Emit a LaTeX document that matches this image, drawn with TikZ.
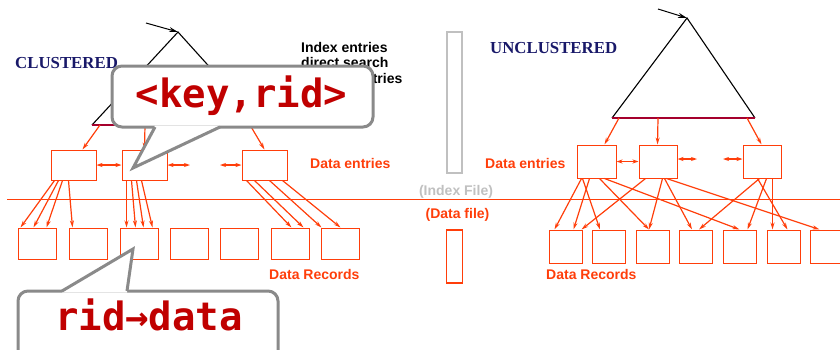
\documentclass[tikz,border=0pt]{standalone}
\usepackage{fontspec}
\setmainfont{Liberation Sans}
\newfontfamily\serifbold{Liberation Serif}
\newfontfamily\monofnt{DejaVu Sans Mono}
\usetikzlibrary{arrows.meta,calc}
\definecolor{ored}{RGB}{255,62,10}
\definecolor{maroon}{RGB}{165,0,45}
\definecolor{navyc}{RGB}{25,25,105}
\definecolor{lgray}{RGB}{192,192,192}
\definecolor{cgray}{RGB}{138,138,138}
\definecolor{callred}{RGB}{192,0,0}
\begin{document}
\begin{tikzpicture}[x=1pt,y=-1pt,
  lbl/.style={inner sep=0, font=\fontsize{14}{16}\selectfont\bfseries},
  redlbl/.style={lbl, text=ored},
  ttl/.style={inner sep=0, text=navyc, font=\serifbold\fontsize{16.8}{18}\selectfont\bfseries},
  ebox/.style={draw=ored, line width=1pt, inner sep=0},
  arr/.style={draw=ored, line width=1.2pt, -{Stealth[length=7pt,width=4pt]}},
  darr/.style={draw=ored, line width=1.2pt, {Stealth[length=6pt,width=4pt]}-{Stealth[length=6pt,width=4pt]}},
  tri/.style={draw=black, line width=1.1pt},
  rootarr/.style={draw=black, line width=1pt, -{Stealth[length=9pt,width=5pt]}},
  cbox/.style={draw=cgray, line width=3pt, fill=white, rounded corners=10pt},
  ctext/.style={inner sep=0, anchor=base, text=callred, font=\monofnt\fontsize{39}{40}\selectfont\bfseries}
]
\useasboundingbox (0,0) rectangle (840,349);

% ---------------- separator and index/data file columns
\coordinate (sepl) at (7,199);
\coordinate (sepr) at (840,199);
\draw[draw=ored, line width=1pt] (sepl) -- (sepr);
\node[draw=lgray, line width=1.5pt, inner sep=0, minimum width=15pt, minimum height=141pt] (ixcol) at (454.5,102.5) {};
\node[draw=ored, line width=1.2pt, inner sep=0, minimum width=16pt, minimum height=53pt] (dfcol) at (454.5,256.5) {};
\node[lbl, text=lgray, anchor=base] (ixlbl) at (456,195) {(Index File)};
\node[redlbl, anchor=base] (dflbl) at (457.5,218) {(Data file)};

% ---------------- texts
\node[ttl, anchor=base west] (clus) at (15,68.5) {CLUSTERED};
\node[ttl, anchor=base west] (unclus) at (490,53.5) {UNCLUSTERED};
\node[lbl, anchor=base west] (ie1) at (301,52) {Index entries};
\node[lbl, anchor=base west] (ie2) at (301,67.5) {direct search};
\node[lbl, anchor=base west] (ie3) at (301,83) {for data entries};
\node[redlbl, anchor=base west] (de1) at (310,168) {Data entries};
\node[redlbl, anchor=base west] (de2) at (485,168) {Data entries};
\node[redlbl, anchor=base west] (dr1) at (269,279) {Data Records};
\node[redlbl, anchor=base west] (dr2) at (546,279) {Data Records};

% ================= CLUSTERED =================
\coordinate (croot) at (146,23);
\coordinate (capex) at (178,32);
\coordinate (cl) at (92,125);
\coordinate (cr) at (262,125);
\draw[tri] (cl) -- (capex) -- (cr);
\draw[draw=maroon, line width=1.1pt] (cl) -- (cr);
\draw[rootarr] (croot) -- (capex);

\foreach \n/\x in {ce1/73.5, ce2/144.5, ce3/264.5}
  \node[ebox, minimum width=45pt, minimum height=30pt] (\n) at (\x,165) {};
\foreach \n/\x in {cr1/37, cr2/88, cr3/139, cr4/189, cr5/239, cr6/290, cr7/340}
  \node[ebox, minimum width=38pt, minimum height=31pt] (\n) at (\x,243.5) {};

\coordinate (cs1) at (100,125);
\coordinate (cs2) at (145,125);
\coordinate (cs3) at (250,125);
\draw[arr] (cs1) -- ([xshift=32pt]ce1.north west);
\draw[arr] (cs2) -- ([xshift=23pt]ce2.north west);
\draw[arr] (cs3) -- ([xshift=23pt]ce3.north west);

\draw[darr] (ce1.east) -- (ce2.west);
\coordinate (cd1) at (190,165);
\coordinate (cd2) at (220,165);
\draw[darr] (ce2.east) -- (cd1);
\draw[darr] (cd2) -- (ce3.west);

\foreach \s/\t/\e/\u in {4/ce1/3/cr1, 8/ce1/16/cr1, 12/ce1/29/cr1, 18/ce1/4/cr2,
  5/ce2/7/cr3, 10/ce2/16/cr3, 15/ce2/24/cr3, 20/ce2/33/cr3,
  5/ce3/21/cr6, 13/ce3/33/cr6, 28/ce3/1/cr7, 41/ce3/20/cr7}
  \draw[arr] ([xshift=\s pt]\t.south west) -- ([xshift=\e pt]\u.north west);

% ================= UNCLUSTERED =================
\coordinate (uroot) at (658,9);
\coordinate (uapex) at (687,18);
\coordinate (ul) at (612,118);
\coordinate (ur) at (755,118);
\draw[tri] (ul) -- (uapex) -- (ur);
\draw[draw=maroon, line width=1.1pt] (ul) -- (ur);
\draw[rootarr] (uroot) -- (uapex);

\foreach \n/\x/\w in {ue1/596.5/39, ue2/658/38, ue3/762/38}
  \node[ebox, minimum width=\w pt, minimum height=33pt] (\n) at (\x,161.5) {};
\foreach \n/\x in {ur1/565.5, ur2/609, ur3/653, ur4/696, ur5/739.5, ur6/783.5, ur7/826.5}
  \node[ebox, minimum width=33pt, minimum height=33pt] (\n) at (\x,246.5) {};

\coordinate (us1) at (619,118);
\coordinate (us2) at (658,118);
\coordinate (us3) at (747,118);
\draw[arr] (us1) -- ([xshift=28pt]ue1.north west);
\draw[arr] (us2) -- ([xshift=19pt]ue2.north west);
\draw[arr] (us3) -- ([xshift=19pt]ue3.north west);

\draw[darr] (ue1.east) -- (ue2.west);
\coordinate (ud1) at (697,159);
\coordinate (ud2) at (723,159);
\draw[darr] ([yshift=2.5pt]ue2.east) -- (ud1);
\draw[darr] (ud2) -- ([yshift=2.5pt]ue3.west);

\foreach \s/\t/\e/\u in {5/ue1/6/ur1, 13/ue1/25/ur1, 7/ue2/33/ur1, 6/ue1/8/ur2,
  23/ue1/13/ur3, 24/ue2/13/ur3, 26/ue2/13/ur4, 17/ue3/20/ur4,
  28/ue1/17/ur5, 24/ue3/25/ur5, 30/ue3/6/ur6, 15/ue3/21/ur6, 28/ue2/10/ur7}
  \draw[arr] ([xshift=\s pt]\t.south west) -- ([xshift=\e pt]\u.north west);

% ================= CALLOUTS =================
\draw[cbox] (112,66) rectangle (373,127);
\fill[white] (155,125.5) -- (220,125.5) -- (133,168) -- cycle;
\coordinate (t1a) at (155,127);
\coordinate (t1tip) at (133,168);
\coordinate (t1b) at (220,127);
\draw[draw=cgray, line width=3pt, line join=miter] (t1a) -- (t1tip) -- (t1b);
\node[ctext] (kr) at (241.5,107) {<key,rid>};

\draw[cbox] (18,291) rectangle (278,375);
\fill[white] (62,292.5) -- (127,292.5) -- (133,249) -- cycle;
\coordinate (t2a) at (62,291);
\coordinate (t2tip) at (133,249);
\coordinate (t2b) at (127,291);
\draw[draw=cgray, line width=3pt, line join=miter] (t2a) -- (t2tip) -- (t2b);
\node[ctext] (rd) at (149,330) {rid→data};
\end{tikzpicture}
\end{document}
